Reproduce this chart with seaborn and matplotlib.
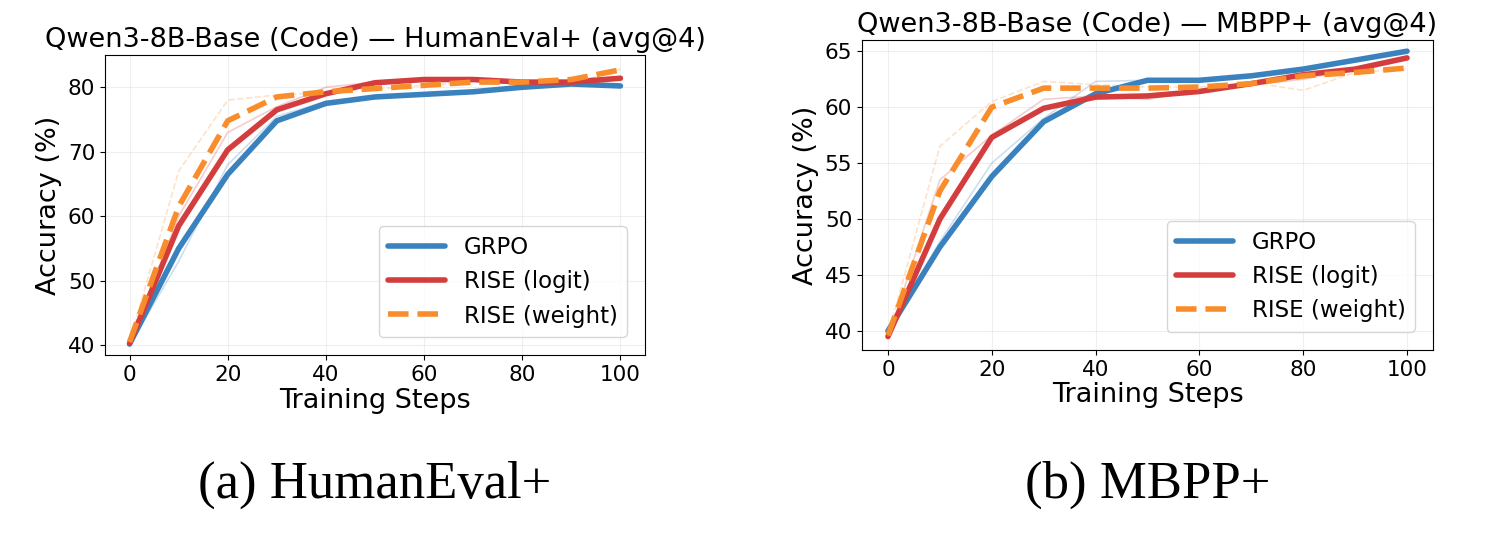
import matplotlib
matplotlib.use("Agg")
import matplotlib.pyplot as plt
import seaborn as sns
import pandas as pd

steps = [0, 10, 20, 30, 40, 50, 60, 70, 80, 90, 100]

he_grpo = [40.2, 55.0, 66.5, 74.8, 77.5, 78.5, 78.9, 79.3, 80.0, 80.5, 80.2]
he_logit = [40.3, 58.5, 70.3, 76.5, 79.0, 80.7, 81.2, 81.2, 80.8, 80.8, 81.4]
he_weight = [40.5, 61.5, 74.8, 78.5, 79.3, 79.8, 80.3, 80.8, 80.8, 81.2, 82.7]
he_grpo_raw = [40.0, 53.0, 68.0, 75.5, 77.8, 78.6, 78.9, 79.3, 80.0, 80.7, 80.1]
he_logit_raw = [40.3, 60.0, 73.0, 77.0, 80.0, 80.8, 81.2, 81.0, 80.9, 80.5, 81.5]
he_weight_raw = [40.5, 67.0, 78.0, 78.8, 79.2, 79.7, 80.3, 80.8, 80.5, 80.5, 82.8]

mb_grpo = [40.0, 47.5, 53.8, 58.7, 61.2, 62.4, 62.4, 62.8, 63.4, 64.2, 65.0]
mb_logit = [39.5, 50.0, 57.3, 59.9, 60.9, 61.0, 61.4, 62.1, 62.9, 63.4, 64.4]
mb_weight = [39.6, 52.5, 60.0, 61.7, 61.7, 61.7, 61.8, 62.1, 62.8, 63.1, 63.5]
mb_grpo_raw = [40.0, 48.0, 55.0, 59.0, 62.3, 62.4, 62.3, 62.9, 63.4, 64.2, 65.0]
mb_logit_raw = [39.4, 53.5, 57.5, 60.7, 61.0, 60.7, 61.5, 62.0, 62.5, 63.4, 64.4]
mb_weight_raw = [39.6, 56.5, 60.5, 62.3, 62.0, 61.8, 61.8, 62.2, 61.5, 63.1, 63.4]

titles = ["Qwen3-8B-Base (Code) — HumanEval+ (avg@4)", "Qwen3-8B-Base (Code) — MBPP+ (avg@4)"]
captions = ["(a) HumanEval+", "(b) MBPP+"]
names = ["GRPO", "RISE (logit)", "RISE (weight)"]
colors = ["#3a82bd", "#d43d3d", "#f98d2c"]
styles = ["-", "-", "--"]

sns.set_style("ticks")
plt.rcParams['font.family'] = ['DejaVu Sans']
plt.rcParams['text.color'] = 'black'
plt.rcParams['axes.labelcolor'] = 'black'
plt.rcParams['xtick.color'] = 'black'
plt.rcParams['ytick.color'] = 'black'

fig = plt.figure(figsize=(15.01, 5.43), dpi=100)
axes = [fig.add_axes([105/1501, 1-355/543, 540/1501, 300/543]),
        fig.add_axes([862/1501, 1-350/543, 571/1501, 310/543])]

datasets = [
    ([he_grpo, he_logit, he_weight], [he_grpo_raw, he_logit_raw, he_weight_raw]),
    ([mb_grpo, mb_logit, mb_weight], [mb_grpo_raw, mb_logit_raw, mb_weight_raw]),
]

for ax, (sm, raw), title, cap in zip(axes, datasets, titles, captions):
    for vals, c, ls in zip(raw, colors, styles):
        sns.lineplot(x=steps, y=vals, ax=ax, color=c, lw=1.2, alpha=0.25, linestyle=ls)
    for vals, c, ls, n in zip(sm, colors, styles, names):
        sns.lineplot(x=steps, y=vals, ax=ax, color=c, lw=4, linestyle=ls, label=n)
    ax.set_title(title, fontsize=19.5, pad=6)
    ax.set_xlabel("Training Steps", fontsize=19.5, labelpad=2)
    ax.set_ylabel("Accuracy (%)", fontsize=19.5)
    ax.tick_params(labelsize=15.5)
    ax.grid(True, alpha=0.3)
    ax.set_xticks([0, 20, 40, 60, 80, 100])
    ax.legend(loc="lower right", fontsize=16.5, borderaxespad=0.8, handlelength=2.5)
    for s in ax.spines.values():
        s.set_color("black")
    pos = ax.get_position()
    fig.text((pos.x0 + pos.x1) / 2, 1 - 485/543, cap, ha="center", va="center",
             fontsize=38, family="Liberation Serif", color="black")

axes[0].set_xlim(-5, 105)
axes[0].set_ylim(38.5, 85)
axes[0].set_yticks([40, 50, 60, 70, 80])
axes[1].set_xlim(-5, 105)
axes[1].set_ylim(38.3, 66)
axes[1].set_yticks([40, 45, 50, 55, 60, 65])

fig.savefig("out.png", dpi=100)
